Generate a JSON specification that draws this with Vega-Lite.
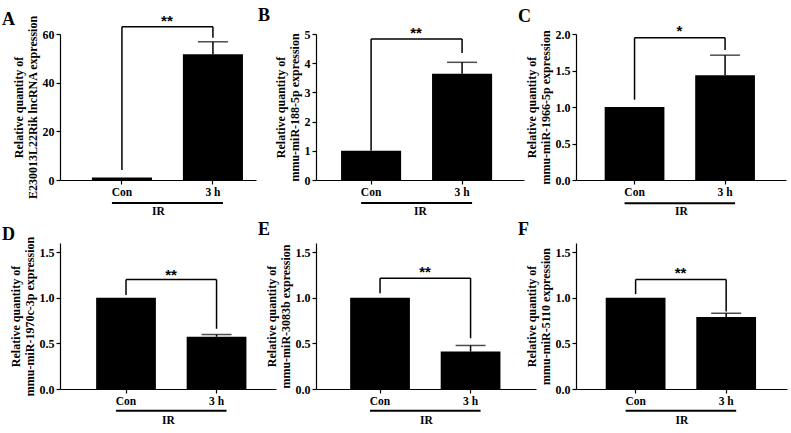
{
  "$schema": "https://vega.github.io/schema/vega-lite/v6.json",
  "padding": {"left": 2, "top": 6, "right": 2, "bottom": 2},
  "background": "white",
  "config": {
    "font": "Liberation Serif",
    "view": {"stroke": null},
    "axis": {"domainColor": "black", "domainWidth": 1.2, "tickColor": "black", "tickWidth": 1.2, "tickSize": 4, "labelFont": "Liberation Serif", "labelFontWeight": "bold", "labelFontSize": 12, "labelColor": "black", "labelOverlap": false, "titleFont": "Liberation Serif", "titleFontWeight": "bold", "titleFontSize": 12, "titleColor": "black", "grid": false},
    "axisY": {"titleLineHeight": 14, "titlePadding": 3, "labelPadding": 2},
    "axisX": {"labelAngle": 0, "labelPadding": 2, "titlePadding": 8, "labelFontSize": 11.5, "titleFontSize": 11.5},
    "title": {"font": "Liberation Serif", "fontSize": 18, "fontWeight": "bold", "color": "black", "anchor": "start", "frame": "group", "offset": 0}
  },
  "concat": [
    {
      "width": 196, "height": 146,
      "title": {"text": "A", "dx": -58, "dy": 19},
      "data": {"values": [{"group": "Con", "mean": 1.0}, {"group": "3 h", "mean": 51.7, "upper": 56.8}]},
      "encoding": {"x": {"field": "group", "type": "nominal", "scale": {"domain": ["Con", "3 h"], "paddingInner": 0.34, "paddingOuter": 0.247, "align": 0.71}, "axis": {"title": "IR"}}},
      "layer": [
        {"mark": {"type": "bar", "color": "black"}, "encoding": {"y": {"field": "mean", "type": "quantitative", "scale": {"domain": [0, 60]}, "axis": {"values": [0, 20, 40, 60], "labelOverlap": false, "title": ["Relative quantity of", "E230013L22Rik lncRNA expression"]}}}},
        {"transform": [{"filter": "isValid(datum.upper)"}], "mark": {"type": "rule", "strokeWidth": 1.5, "color": "black"}, "encoding": {"y": {"field": "mean", "type": "quantitative", "axis": {"values": [0, 20, 40, 60], "labelOverlap": false, "title": ["Relative quantity of", "E230013L22Rik lncRNA expression"]}}, "y2": {"field": "upper"}}},
        {"transform": [{"filter": "isValid(datum.upper)"}], "mark": {"type": "tick", "orient": "horizontal", "size": 30, "thickness": 1.5, "color": "black"}, "encoding": {"y": {"field": "upper", "type": "quantitative", "axis": {"values": [0, 20, 40, 60], "labelOverlap": false, "title": ["Relative quantity of", "E230013L22Rik lncRNA expression"]}}}},
        {"data": {"values": [{}]}, "mark": {"type": "rule", "strokeWidth": 1.5, "color": "black"}, "encoding": {"x": {"datum": "Con"}, "x2": {"datum": "3 h"}, "y": {"datum": 63.0, "type": "quantitative", "axis": {"values": [0, 20, 40, 60], "labelOverlap": false, "title": ["Relative quantity of", "E230013L22Rik lncRNA expression"]}}}},
        {"data": {"values": [{}]}, "mark": {"type": "rule", "strokeWidth": 1.5, "color": "black"}, "encoding": {"x": {"datum": "Con"}, "y": {"datum": 4.1, "type": "quantitative", "axis": {"values": [0, 20, 40, 60], "labelOverlap": false, "title": ["Relative quantity of", "E230013L22Rik lncRNA expression"]}}, "y2": {"datum": 63.0}}},
        {"data": {"values": [{}]}, "mark": {"type": "rule", "strokeWidth": 1.5, "color": "black"}, "encoding": {"x": {"datum": "3 h"}, "y": {"datum": 58.5, "type": "quantitative", "axis": {"values": [0, 20, 40, 60], "labelOverlap": false, "title": ["Relative quantity of", "E230013L22Rik lncRNA expression"]}}, "y2": {"datum": 63.0}}},
        {"data": {"values": [{}]}, "mark": {"type": "text", "text": "**", "font": "Liberation Sans", "fontWeight": "bold", "fontSize": 15, "xOffset": 45, "baseline": "middle", "dy": 4}, "encoding": {"x": {"datum": "Con"}, "y": {"datum": 67, "type": "quantitative", "axis": {"values": [0, 20, 40, 60], "labelOverlap": false, "title": ["Relative quantity of", "E230013L22Rik lncRNA expression"]}}}},
        {"data": {"values": [{}]}, "mark": {"type": "rule", "strokeWidth": 2, "color": "black", "xOffset": -10, "x2Offset": 10}, "encoding": {"x": {"datum": "Con"}, "x2": {"datum": "3 h"}, "y": {"datum": -9.45, "type": "quantitative", "axis": {"values": [0, 20, 40, 60], "labelOverlap": false, "title": ["Relative quantity of", "E230013L22Rik lncRNA expression"]}}}}
      ]
    },
    {
      "width": 208, "height": 146,
      "title": {"text": "B", "dx": -58, "dy": 3},
      "data": {"values": [{"group": "Con", "mean": 1.0}, {"group": "3 h", "mean": 3.64, "upper": 4.03}]},
      "encoding": {"x": {"field": "group", "type": "nominal", "scale": {"domain": ["Con", "3 h"], "paddingInner": 0.34, "paddingOuter": 0.313, "align": 0.44}, "axis": {"title": "IR"}}},
      "layer": [
        {"mark": {"type": "bar", "color": "black"}, "encoding": {"y": {"field": "mean", "type": "quantitative", "scale": {"domain": [0, 5]}, "axis": {"values": [0, 1, 2, 3, 4, 5], "labelOverlap": false, "title": ["Relative quantity of", "mmu-miR-188-5p  expression"]}}}},
        {"transform": [{"filter": "isValid(datum.upper)"}], "mark": {"type": "rule", "strokeWidth": 1.5, "color": "black"}, "encoding": {"y": {"field": "mean", "type": "quantitative", "axis": {"values": [0, 1, 2, 3, 4, 5], "labelOverlap": false, "title": ["Relative quantity of", "mmu-miR-188-5p  expression"]}}, "y2": {"field": "upper"}}},
        {"transform": [{"filter": "isValid(datum.upper)"}], "mark": {"type": "tick", "orient": "horizontal", "size": 30, "thickness": 1.5, "color": "black"}, "encoding": {"y": {"field": "upper", "type": "quantitative", "axis": {"values": [0, 1, 2, 3, 4, 5], "labelOverlap": false, "title": ["Relative quantity of", "mmu-miR-188-5p  expression"]}}}},
        {"data": {"values": [{}]}, "mark": {"type": "rule", "strokeWidth": 1.5, "color": "black"}, "encoding": {"x": {"datum": "Con"}, "x2": {"datum": "3 h"}, "y": {"datum": 4.83, "type": "quantitative", "axis": {"values": [0, 1, 2, 3, 4, 5], "labelOverlap": false, "title": ["Relative quantity of", "mmu-miR-188-5p  expression"]}}}},
        {"data": {"values": [{}]}, "mark": {"type": "rule", "strokeWidth": 1.5, "color": "black"}, "encoding": {"x": {"datum": "Con"}, "y": {"datum": 1.0, "type": "quantitative", "axis": {"values": [0, 1, 2, 3, 4, 5], "labelOverlap": false, "title": ["Relative quantity of", "mmu-miR-188-5p  expression"]}}, "y2": {"datum": 4.83}}},
        {"data": {"values": [{}]}, "mark": {"type": "rule", "strokeWidth": 1.5, "color": "black"}, "encoding": {"x": {"datum": "3 h"}, "y": {"datum": 4.35, "type": "quantitative", "axis": {"values": [0, 1, 2, 3, 4, 5], "labelOverlap": false, "title": ["Relative quantity of", "mmu-miR-188-5p  expression"]}}, "y2": {"datum": 4.83}}},
        {"data": {"values": [{}]}, "mark": {"type": "text", "text": "**", "font": "Liberation Sans", "fontWeight": "bold", "fontSize": 15, "xOffset": 45, "baseline": "middle", "dy": 4}, "encoding": {"x": {"datum": "Con"}, "y": {"datum": 5.18, "type": "quantitative", "axis": {"values": [0, 1, 2, 3, 4, 5], "labelOverlap": false, "title": ["Relative quantity of", "mmu-miR-188-5p  expression"]}}}},
        {"data": {"values": [{}]}, "mark": {"type": "rule", "strokeWidth": 2, "color": "black", "xOffset": -10, "x2Offset": 10}, "encoding": {"x": {"datum": "Con"}, "x2": {"datum": "3 h"}, "y": {"datum": -0.79, "type": "quantitative", "axis": {"values": [0, 1, 2, 3, 4, 5], "labelOverlap": false, "title": ["Relative quantity of", "mmu-miR-188-5p  expression"]}}}}
      ]
    },
    {
      "width": 210, "height": 146,
      "title": {"text": "C", "dx": -58, "dy": 6},
      "data": {"values": [{"group": "Con", "mean": 1.0}, {"group": "3 h", "mean": 1.434, "upper": 1.71}]},
      "encoding": {"x": {"field": "group", "type": "nominal", "scale": {"domain": ["Con", "3 h"], "paddingInner": 0.34, "paddingOuter": 0.33, "align": 0.48}, "axis": {"title": "IR"}}},
      "layer": [
        {"mark": {"type": "bar", "color": "black"}, "encoding": {"y": {"field": "mean", "type": "quantitative", "scale": {"domain": [0, 2]}, "axis": {"values": [0, 0.5, 1, 1.5, 2], "format": ".1f", "labelOverlap": false, "title": ["Relative quantity of", "mmu-miR-1966-5p  expression"]}}}},
        {"transform": [{"filter": "isValid(datum.upper)"}], "mark": {"type": "rule", "strokeWidth": 1.5, "color": "black"}, "encoding": {"y": {"field": "mean", "type": "quantitative", "axis": {"values": [0, 0.5, 1, 1.5, 2], "format": ".1f", "labelOverlap": false, "title": ["Relative quantity of", "mmu-miR-1966-5p  expression"]}}, "y2": {"field": "upper"}}},
        {"transform": [{"filter": "isValid(datum.upper)"}], "mark": {"type": "tick", "orient": "horizontal", "size": 30, "thickness": 1.5, "color": "black"}, "encoding": {"y": {"field": "upper", "type": "quantitative", "axis": {"values": [0, 0.5, 1, 1.5, 2], "format": ".1f", "labelOverlap": false, "title": ["Relative quantity of", "mmu-miR-1966-5p  expression"]}}}},
        {"data": {"values": [{}]}, "mark": {"type": "rule", "strokeWidth": 1.5, "color": "black"}, "encoding": {"x": {"datum": "Con"}, "x2": {"datum": "3 h"}, "y": {"datum": 1.95, "type": "quantitative", "axis": {"values": [0, 0.5, 1, 1.5, 2], "format": ".1f", "labelOverlap": false, "title": ["Relative quantity of", "mmu-miR-1966-5p  expression"]}}}},
        {"data": {"values": [{}]}, "mark": {"type": "rule", "strokeWidth": 1.5, "color": "black"}, "encoding": {"x": {"datum": "Con"}, "y": {"datum": 1.1, "type": "quantitative", "axis": {"values": [0, 0.5, 1, 1.5, 2], "format": ".1f", "labelOverlap": false, "title": ["Relative quantity of", "mmu-miR-1966-5p  expression"]}}, "y2": {"datum": 1.95}}},
        {"data": {"values": [{}]}, "mark": {"type": "rule", "strokeWidth": 1.5, "color": "black"}, "encoding": {"x": {"datum": "3 h"}, "y": {"datum": 1.78, "type": "quantitative", "axis": {"values": [0, 0.5, 1, 1.5, 2], "format": ".1f", "labelOverlap": false, "title": ["Relative quantity of", "mmu-miR-1966-5p  expression"]}}, "y2": {"datum": 1.95}}},
        {"data": {"values": [{}]}, "mark": {"type": "text", "text": "*", "font": "Liberation Sans", "fontWeight": "bold", "fontSize": 15, "xOffset": 45, "baseline": "middle", "dy": 4}, "encoding": {"x": {"datum": "Con"}, "y": {"datum": 2.1, "type": "quantitative", "axis": {"values": [0, 0.5, 1, 1.5, 2], "format": ".1f", "labelOverlap": false, "title": ["Relative quantity of", "mmu-miR-1966-5p  expression"]}}}},
        {"data": {"values": [{}]}, "mark": {"type": "rule", "strokeWidth": 2, "color": "black", "xOffset": -10, "x2Offset": 10}, "encoding": {"x": {"datum": "Con"}, "x2": {"datum": "3 h"}, "y": {"datum": -0.317, "type": "quantitative", "axis": {"values": [0, 0.5, 1, 1.5, 2], "format": ".1f", "labelOverlap": false, "title": ["Relative quantity of", "mmu-miR-1966-5p  expression"]}}}}
      ]
    },
    {
      "width": 216, "height": 146,
      "title": {"text": "D", "dx": -58, "dy": 13},
      "data": {"values": [{"group": "Con", "mean": 1.0}, {"group": "3 h", "mean": 0.573, "upper": 0.597}]},
      "encoding": {"x": {"field": "group", "type": "nominal", "scale": {"domain": ["Con", "3 h"], "paddingInner": 0.34, "paddingOuter": 0.363, "align": 0.55}, "axis": {"title": "IR"}}},
      "layer": [
        {"mark": {"type": "bar", "color": "black"}, "encoding": {"y": {"field": "mean", "type": "quantitative", "scale": {"domain": [0, 1.5]}, "axis": {"values": [0, 0.5, 1, 1.5], "format": ".1f", "labelOverlap": false, "title": ["Relative quantity of", "mmu-miR-1970c-3p  expression"]}}}},
        {"transform": [{"filter": "isValid(datum.upper)"}], "mark": {"type": "rule", "strokeWidth": 1.5, "color": "black"}, "encoding": {"y": {"field": "mean", "type": "quantitative", "axis": {"values": [0, 0.5, 1, 1.5], "format": ".1f", "labelOverlap": false, "title": ["Relative quantity of", "mmu-miR-1970c-3p  expression"]}}, "y2": {"field": "upper"}}},
        {"transform": [{"filter": "isValid(datum.upper)"}], "mark": {"type": "tick", "orient": "horizontal", "size": 30, "thickness": 1.5, "color": "black"}, "encoding": {"y": {"field": "upper", "type": "quantitative", "axis": {"values": [0, 0.5, 1, 1.5], "format": ".1f", "labelOverlap": false, "title": ["Relative quantity of", "mmu-miR-1970c-3p  expression"]}}}},
        {"data": {"values": [{}]}, "mark": {"type": "rule", "strokeWidth": 1.5, "color": "black"}, "encoding": {"x": {"datum": "Con"}, "x2": {"datum": "3 h"}, "y": {"datum": 1.2, "type": "quantitative", "axis": {"values": [0, 0.5, 1, 1.5], "format": ".1f", "labelOverlap": false, "title": ["Relative quantity of", "mmu-miR-1970c-3p  expression"]}}}},
        {"data": {"values": [{}]}, "mark": {"type": "rule", "strokeWidth": 1.5, "color": "black"}, "encoding": {"x": {"datum": "Con"}, "y": {"datum": 1.03, "type": "quantitative", "axis": {"values": [0, 0.5, 1, 1.5], "format": ".1f", "labelOverlap": false, "title": ["Relative quantity of", "mmu-miR-1970c-3p  expression"]}}, "y2": {"datum": 1.2}}},
        {"data": {"values": [{}]}, "mark": {"type": "rule", "strokeWidth": 1.5, "color": "black"}, "encoding": {"x": {"datum": "3 h"}, "y": {"datum": 0.66, "type": "quantitative", "axis": {"values": [0, 0.5, 1, 1.5], "format": ".1f", "labelOverlap": false, "title": ["Relative quantity of", "mmu-miR-1970c-3p  expression"]}}, "y2": {"datum": 1.2}}},
        {"data": {"values": [{}]}, "mark": {"type": "text", "text": "**", "font": "Liberation Sans", "fontWeight": "bold", "fontSize": 15, "xOffset": 45, "baseline": "middle", "dy": 4}, "encoding": {"x": {"datum": "Con"}, "y": {"datum": 1.29, "type": "quantitative", "axis": {"values": [0, 0.5, 1, 1.5], "format": ".1f", "labelOverlap": false, "title": ["Relative quantity of", "mmu-miR-1970c-3p  expression"]}}}},
        {"data": {"values": [{}]}, "mark": {"type": "rule", "strokeWidth": 2, "color": "black", "xOffset": -10, "x2Offset": 10}, "encoding": {"x": {"datum": "Con"}, "x2": {"datum": "3 h"}, "y": {"datum": -0.237, "type": "quantitative", "axis": {"values": [0, 0.5, 1, 1.5], "format": ".1f", "labelOverlap": false, "title": ["Relative quantity of", "mmu-miR-1970c-3p  expression"]}}}}
      ]
    },
    {
      "width": 220, "height": 146,
      "title": {"text": "E", "dx": -58, "dy": 1},
      "data": {"values": [{"group": "Con", "mean": 1.0}, {"group": "3 h", "mean": 0.41, "upper": 0.477}]},
      "encoding": {"x": {"field": "group", "type": "nominal", "scale": {"domain": ["Con", "3 h"], "paddingInner": 0.34, "paddingOuter": 0.385, "align": 0.49}, "axis": {"title": "IR"}}},
      "layer": [
        {"mark": {"type": "bar", "color": "black"}, "encoding": {"y": {"field": "mean", "type": "quantitative", "scale": {"domain": [0, 1.5]}, "axis": {"values": [0, 0.5, 1, 1.5], "format": ".1f", "labelOverlap": false, "title": ["Relative quantity of", "mmu-miR-3083b  expression"]}}}},
        {"transform": [{"filter": "isValid(datum.upper)"}], "mark": {"type": "rule", "strokeWidth": 1.5, "color": "black"}, "encoding": {"y": {"field": "mean", "type": "quantitative", "axis": {"values": [0, 0.5, 1, 1.5], "format": ".1f", "labelOverlap": false, "title": ["Relative quantity of", "mmu-miR-3083b  expression"]}}, "y2": {"field": "upper"}}},
        {"transform": [{"filter": "isValid(datum.upper)"}], "mark": {"type": "tick", "orient": "horizontal", "size": 30, "thickness": 1.5, "color": "black"}, "encoding": {"y": {"field": "upper", "type": "quantitative", "axis": {"values": [0, 0.5, 1, 1.5], "format": ".1f", "labelOverlap": false, "title": ["Relative quantity of", "mmu-miR-3083b  expression"]}}}},
        {"data": {"values": [{}]}, "mark": {"type": "rule", "strokeWidth": 1.5, "color": "black"}, "encoding": {"x": {"datum": "Con"}, "x2": {"datum": "3 h"}, "y": {"datum": 1.215, "type": "quantitative", "axis": {"values": [0, 0.5, 1, 1.5], "format": ".1f", "labelOverlap": false, "title": ["Relative quantity of", "mmu-miR-3083b  expression"]}}}},
        {"data": {"values": [{}]}, "mark": {"type": "rule", "strokeWidth": 1.5, "color": "black"}, "encoding": {"x": {"datum": "Con"}, "y": {"datum": 1.05, "type": "quantitative", "axis": {"values": [0, 0.5, 1, 1.5], "format": ".1f", "labelOverlap": false, "title": ["Relative quantity of", "mmu-miR-3083b  expression"]}}, "y2": {"datum": 1.215}}},
        {"data": {"values": [{}]}, "mark": {"type": "rule", "strokeWidth": 1.5, "color": "black"}, "encoding": {"x": {"datum": "3 h"}, "y": {"datum": 0.556, "type": "quantitative", "axis": {"values": [0, 0.5, 1, 1.5], "format": ".1f", "labelOverlap": false, "title": ["Relative quantity of", "mmu-miR-3083b  expression"]}}, "y2": {"datum": 1.215}}},
        {"data": {"values": [{}]}, "mark": {"type": "text", "text": "**", "font": "Liberation Sans", "fontWeight": "bold", "fontSize": 15, "xOffset": 45, "baseline": "middle", "dy": 4}, "encoding": {"x": {"datum": "Con"}, "y": {"datum": 1.33, "type": "quantitative", "axis": {"values": [0, 0.5, 1, 1.5], "format": ".1f", "labelOverlap": false, "title": ["Relative quantity of", "mmu-miR-3083b  expression"]}}}},
        {"data": {"values": [{}]}, "mark": {"type": "rule", "strokeWidth": 2, "color": "black", "xOffset": -10, "x2Offset": 10}, "encoding": {"x": {"datum": "Con"}, "x2": {"datum": "3 h"}, "y": {"datum": -0.237, "type": "quantitative", "axis": {"values": [0, 0.5, 1, 1.5], "format": ".1f", "labelOverlap": false, "title": ["Relative quantity of", "mmu-miR-3083b  expression"]}}}}
      ]
    },
    {
      "width": 211, "height": 146,
      "title": {"text": "F", "dx": -58, "dy": 0},
      "data": {"values": [{"group": "Con", "mean": 1.0}, {"group": "3 h", "mean": 0.79, "upper": 0.83}]},
      "encoding": {"x": {"field": "group", "type": "nominal", "scale": {"domain": ["Con", "3 h"], "paddingInner": 0.34, "paddingOuter": 0.335, "align": 0.49}, "axis": {"title": "IR"}}},
      "layer": [
        {"mark": {"type": "bar", "color": "black"}, "encoding": {"y": {"field": "mean", "type": "quantitative", "scale": {"domain": [0, 1.5]}, "axis": {"values": [0, 0.5, 1, 1.5], "format": ".1f", "labelOverlap": false, "title": ["Relative quantity of", "mmu-miR-5110  expression"]}}}},
        {"transform": [{"filter": "isValid(datum.upper)"}], "mark": {"type": "rule", "strokeWidth": 1.5, "color": "black"}, "encoding": {"y": {"field": "mean", "type": "quantitative", "axis": {"values": [0, 0.5, 1, 1.5], "format": ".1f", "labelOverlap": false, "title": ["Relative quantity of", "mmu-miR-5110  expression"]}}, "y2": {"field": "upper"}}},
        {"transform": [{"filter": "isValid(datum.upper)"}], "mark": {"type": "tick", "orient": "horizontal", "size": 30, "thickness": 1.5, "color": "black"}, "encoding": {"y": {"field": "upper", "type": "quantitative", "axis": {"values": [0, 0.5, 1, 1.5], "format": ".1f", "labelOverlap": false, "title": ["Relative quantity of", "mmu-miR-5110  expression"]}}}},
        {"data": {"values": [{}]}, "mark": {"type": "rule", "strokeWidth": 1.5, "color": "black"}, "encoding": {"x": {"datum": "Con"}, "x2": {"datum": "3 h"}, "y": {"datum": 1.2, "type": "quantitative", "axis": {"values": [0, 0.5, 1, 1.5], "format": ".1f", "labelOverlap": false, "title": ["Relative quantity of", "mmu-miR-5110  expression"]}}}},
        {"data": {"values": [{}]}, "mark": {"type": "rule", "strokeWidth": 1.5, "color": "black"}, "encoding": {"x": {"datum": "Con"}, "y": {"datum": 1.04, "type": "quantitative", "axis": {"values": [0, 0.5, 1, 1.5], "format": ".1f", "labelOverlap": false, "title": ["Relative quantity of", "mmu-miR-5110  expression"]}}, "y2": {"datum": 1.2}}},
        {"data": {"values": [{}]}, "mark": {"type": "rule", "strokeWidth": 1.5, "color": "black"}, "encoding": {"x": {"datum": "3 h"}, "y": {"datum": 0.85, "type": "quantitative", "axis": {"values": [0, 0.5, 1, 1.5], "format": ".1f", "labelOverlap": false, "title": ["Relative quantity of", "mmu-miR-5110  expression"]}}, "y2": {"datum": 1.2}}},
        {"data": {"values": [{}]}, "mark": {"type": "text", "text": "**", "font": "Liberation Sans", "fontWeight": "bold", "fontSize": 15, "xOffset": 45, "baseline": "middle", "dy": 4}, "encoding": {"x": {"datum": "Con"}, "y": {"datum": 1.31, "type": "quantitative", "axis": {"values": [0, 0.5, 1, 1.5], "format": ".1f", "labelOverlap": false, "title": ["Relative quantity of", "mmu-miR-5110  expression"]}}}},
        {"data": {"values": [{}]}, "mark": {"type": "rule", "strokeWidth": 2, "color": "black", "xOffset": -10, "x2Offset": 10}, "encoding": {"x": {"datum": "Con"}, "x2": {"datum": "3 h"}, "y": {"datum": -0.237, "type": "quantitative", "axis": {"values": [0, 0.5, 1, 1.5], "format": ".1f", "labelOverlap": false, "title": ["Relative quantity of", "mmu-miR-5110  expression"]}}}}
      ]
    }
  ],
  "columns": 3,
  "spacing": {"row": 63, "column": 40},
  "bounds": "flush",
  "align": "each"
}
